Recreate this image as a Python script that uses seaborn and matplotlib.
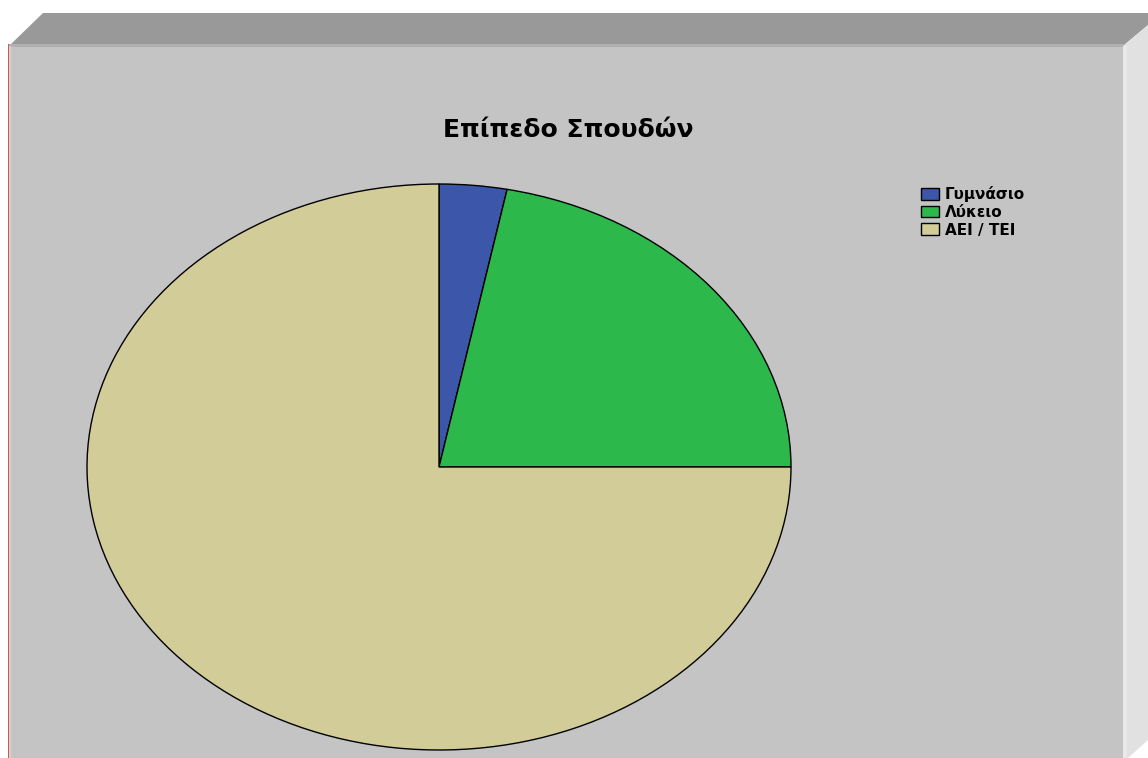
import matplotlib
matplotlib.use("Agg")
import matplotlib.pyplot as plt
from matplotlib.patches import Polygon, Rectangle
import seaborn as sns

# Education level shares (%)
categories = ["Γυμνάσιο", "Λύκειο", "ΑΕΙ / ΤΕΙ"]
shares = [3.1, 21.9, 75.0]
slice_colors = ["#3c57a9", "#2db84b", "#d2cd98"]
title_text = "Επίπεδο Σπουδών"

sns.set_theme(style="white")
plt.rcParams["font.family"] = ["DejaVu Sans"]

W, H = 1148, 758
fig = plt.figure(figsize=(W / 100, H / 100), dpi=100)
fig.patch.set_facecolor("white")

# Background frame drawn in pixel coordinates (y down)
bg = fig.add_axes([0, 0, 1, 1])
bg.set_xlim(0, W)
bg.set_ylim(H, 0)
bg.axis("off")

# top bevel
bg.add_patch(Polygon([(43, 13), (W, 13), (W, 25), (1123, 46), (9, 46)],
                     closed=True, facecolor="#999999", edgecolor="none"))
# right bevel
bg.add_patch(Polygon([(1123, 46), (W, 25), (W, 740), (1128, H), (1123, H)],
                     closed=True, facecolor="#e1e1e1", edgecolor="none"))
bg.add_patch(Rectangle((1123, 46), 4, H - 46, facecolor="#e9e9e9", edgecolor="none"))
# face
bg.add_patch(Rectangle((9, 46), 1114, H - 46, facecolor="#c4c4c4", edgecolor="none"))
bg.add_patch(Rectangle((9, 44), 1114, 3, facecolor="#b0b0b0", edgecolor="none"))
bg.add_patch(Rectangle((9, 46), 2, H - 46, facecolor="#d2d2d2", edgecolor="none"))
# thin red edge on the left
bg.add_patch(Rectangle((7.5, 44), 1.5, H - 44, facecolor="#d9534f", edgecolor="none"))

# Title
fig.text(568 / W, 1 - 130 / H, title_text, ha="center", va="center",
         fontsize=18, fontweight="heavy", color="black")

# Pie (elliptical: axes aspect left free)
cx, cy, rx, ry = 439, 467, 352, 283
ax = fig.add_axes([(cx - rx) / W, 1 - (cy + ry) / H, 2 * rx / W, 2 * ry / H])
ax.set_facecolor("none")
wedges, _ = ax.pie(shares, colors=sns.color_palette(slice_colors), startangle=90,
                   counterclock=False, radius=1,
                   wedgeprops=dict(edgecolor="black", linewidth=1.0))
ax.set_xlim(-1, 1)
ax.set_ylim(-1, 1)
ax.set_aspect("auto")
ax.axis("off")

# Legend
handles = [Rectangle((0, 0), 1, 1, facecolor=c, edgecolor="black", linewidth=1.0)
           for c in slice_colors]
leg = fig.legend(handles, categories, loc="upper left",
                 bbox_to_anchor=(921 / W, 1 - 186 / H), frameon=False,
                 handlelength=1.15, handleheight=0.8, handletextpad=0.4,
                 labelspacing=0.18, borderpad=0, borderaxespad=0,
                 labelcolor="black",
                 prop=dict(weight="bold", size=11))

fig.savefig("out.png", dpi=100)
